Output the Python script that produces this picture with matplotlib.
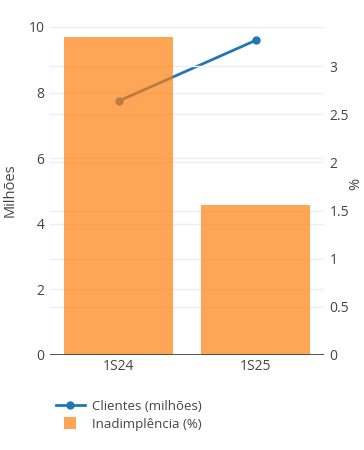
import numpy as np
import matplotlib.pyplot as plt
from matplotlib.lines import Line2D
from matplotlib.patches import Patch

plt.rcParams['font.family'] = ['Open Sans', 'DejaVu Sans']

periodos = ["1S24", "1S25"]
clientes = [7.74, 9.59]        # milhões
inadimplencia = [3.30, 1.56]   # %

cor_linha = "#1f77b4"
cor_barra = "#ff7f0e"
cor_texto = "#444444"
cor_grade = "#eeeeee"

fig = plt.figure(figsize=(3.64, 4.5), dpi=100)
ax = fig.add_axes([50 / 364, 1 - 355 / 450, 274 / 364, 328 / 450])
ax2 = ax.twinx()

x = np.arange(len(periodos))

# linha de clientes (eixo esquerdo)
ax.plot(x, clientes, color=cor_linha, lw=2, marker="o", ms=5, zorder=3)
ax.set_ylim(0, 10)
ax.set_yticks(np.arange(0, 11, 2))
ax.set_xlim(-0.5, 1.5)
ax.set_xticks(x)
ax.set_xticklabels(periodos)
ax.grid(axis="y", color=cor_grade, lw=1)
ax.set_axisbelow(True)

# barras de inadimplencia (eixo direito, por cima da linha)
ax2.bar(x, inadimplencia, width=0.8, color=cor_barra, alpha=0.7, zorder=2)
ax2.set_ylim(0, 3.405)
ax2.set_yticks(np.arange(0, 3.01, 0.5))
ax2.set_yticklabels(["0", "0.5", "1", "1.5", "2", "2.5", "3"])
ax2.grid(axis="y", color=cor_grade, lw=1, zorder=0)
ax2.axhline(0, color=cor_texto, lw=2, zorder=4)

for a in (ax, ax2):
    for s in a.spines.values():
        s.set_visible(False)
    a.tick_params(axis="both", length=0, labelsize=10, labelcolor=cor_texto, pad=4)
ax.tick_params(axis="x", pad=3)

fig.text(10 / 364, 1 - 190 / 450, "Milhões", rotation=90, ha="center", va="center",
         color=cor_texto, fontsize=10.5)
fig.text(356 / 364, 1 - 184 / 450, "%", rotation=90, ha="center", va="center",
         color=cor_texto, fontsize=10.5)

handles = [
    Line2D([0], [0], color=cor_linha, lw=2, marker="o", ms=5),
    Patch(facecolor=cor_barra, alpha=0.7, edgecolor="none"),
]
leg = fig.legend(handles, ["Clientes (milhões)", "Inadimplência (%)"],
                 loc="upper left", bbox_to_anchor=(44 / 364, 1 - 388 / 450),
                 frameon=False, fontsize=9.5, handlelength=2.2, handleheight=1.0,
                 labelspacing=0.3, handletextpad=0.5, labelcolor=cor_texto)
# quadrado menor para a barra, como na legenda original
p = leg.get_patches()[0]
w = p.get_width()
p.set_x(p.get_x() + (w - 8.5) / 2)
p.set_y(p.get_y() + (p.get_height() - 8.5) / 2)
p.set_width(8.5)
p.set_height(8.5)

fig.savefig("out.png", dpi=100)
